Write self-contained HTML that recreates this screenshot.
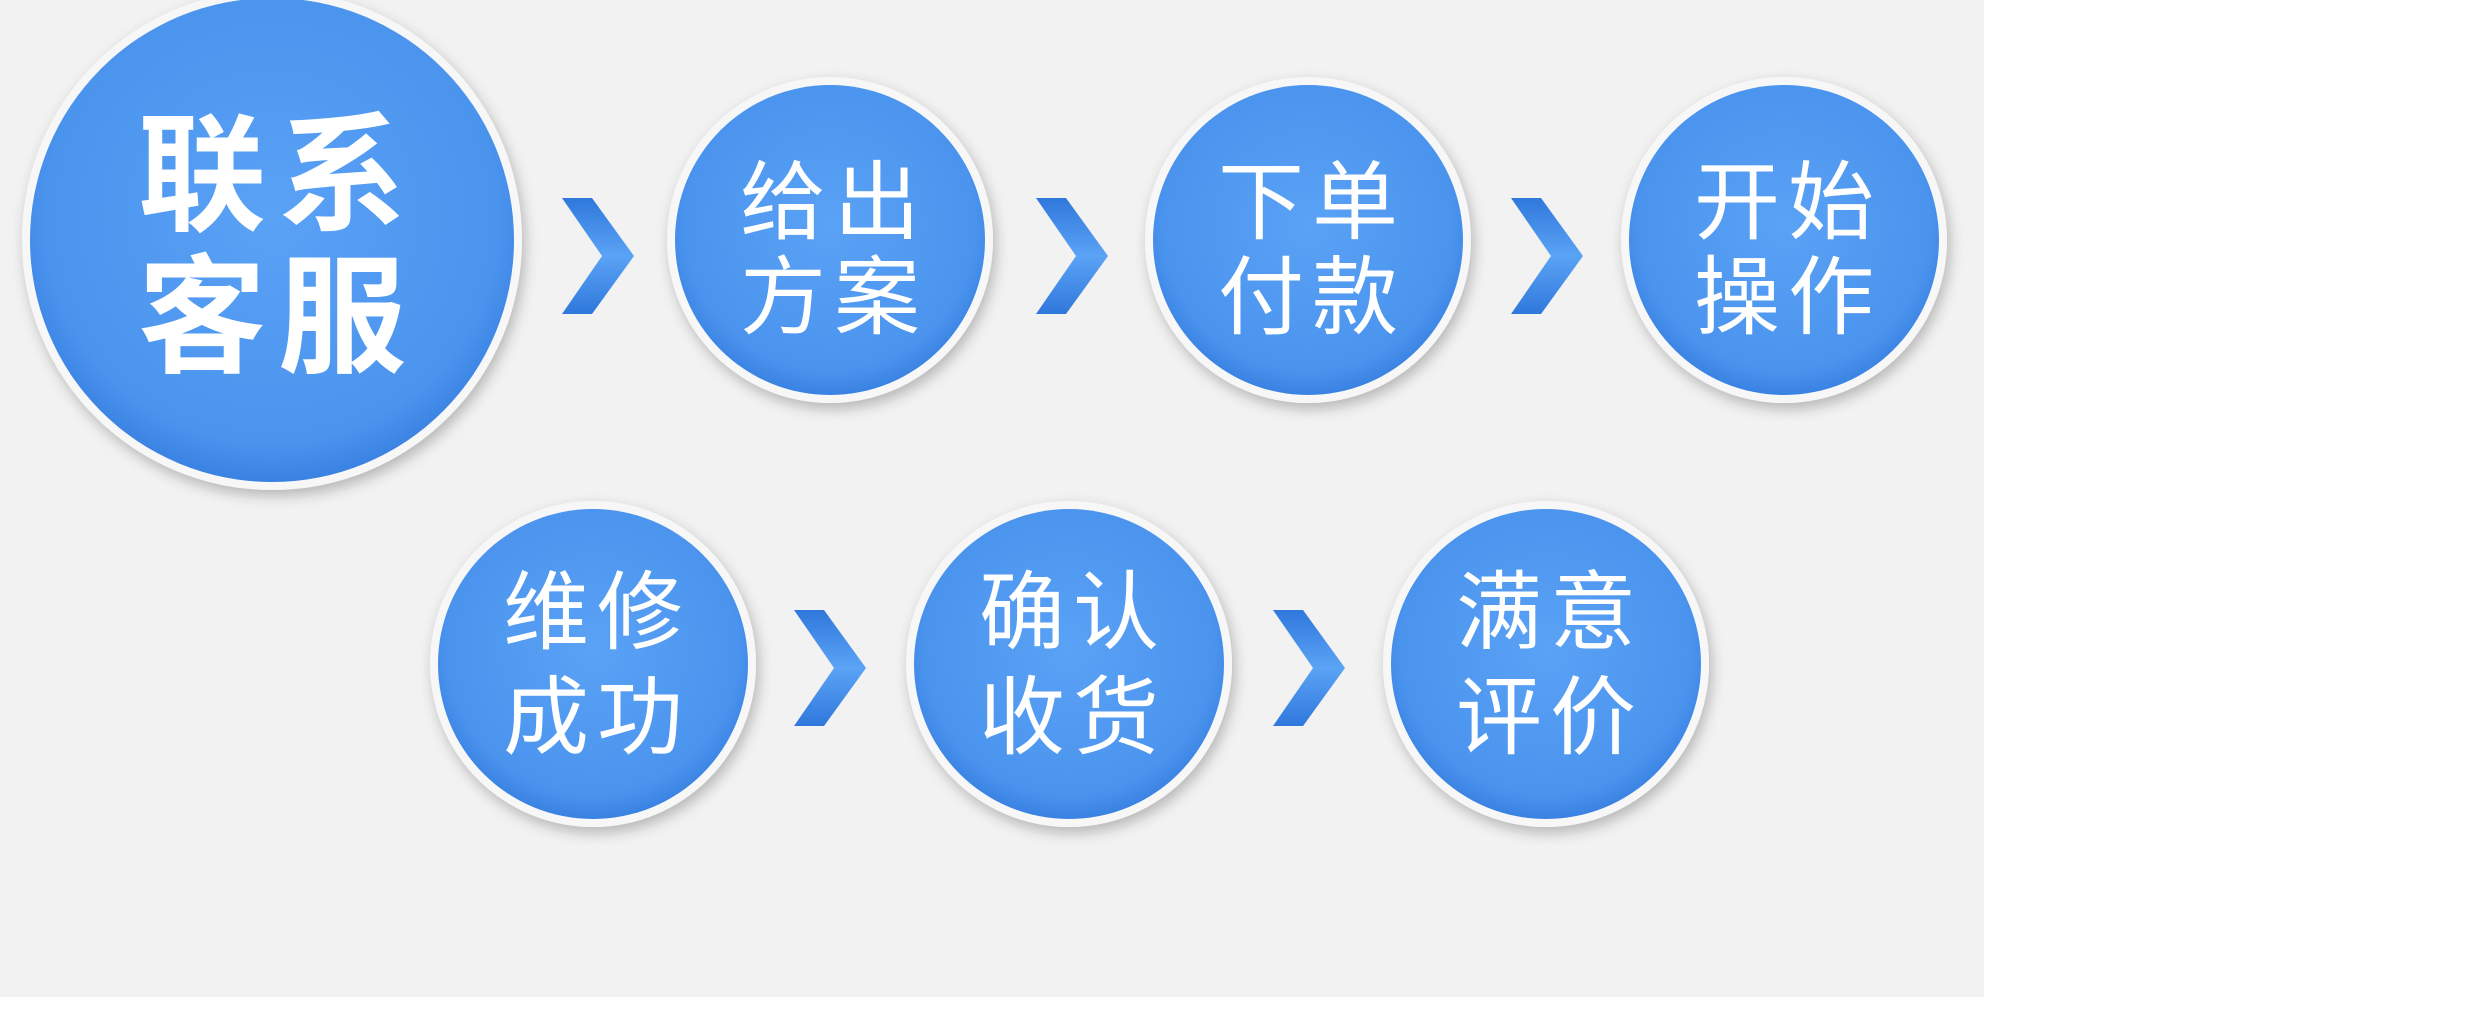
<!DOCTYPE html>
<html><head><meta charset="utf-8"><style>
html,body{margin:0;padding:0;background:#fff;}
svg{display:block;}
text{font-family:"Liberation Sans","Noto Sans CJK SC",sans-serif;fill:#fff;text-anchor:middle;}
</style></head><body>
<svg width="2480" height="1020" viewBox="0 0 2480 1020" xmlns="http://www.w3.org/2000/svg">
<defs>
<radialGradient id="bg" cx="0.5" cy="0.45" r="0.55">
<stop offset="0" stop-color="#5aa2f5"/><stop offset="0.85" stop-color="#4b94ee"/><stop offset="1" stop-color="#3a82e2"/>
</radialGradient>
<linearGradient id="ch" x1="0" y1="0" x2="0" y2="1">
<stop offset="0" stop-color="#2f78dc"/><stop offset="0.5" stop-color="#5ba3f5"/><stop offset="1" stop-color="#2f78dc"/>
</linearGradient>
<filter id="sh" x="-20%" y="-20%" width="140%" height="140%">
<feGaussianBlur in="SourceAlpha" stdDeviation="7"/><feOffset dx="3" dy="6"/>
<feComponentTransfer><feFuncA type="linear" slope="0.25"/></feComponentTransfer>
<feMerge><feMergeNode/><feMergeNode in="SourceGraphic"/></feMerge>
</filter>
<symbol id="chev" viewBox="0 0 72 116"><polygon points="0,0 30,0 72,58 30,116 0,116 40,58" fill="url(#ch)"/></symbol>
</defs>
<rect x="0" y="0" width="1984" height="997" fill="#f2f2f2"/>

<g filter="url(#sh)">
<circle cx="272" cy="240" r="250" fill="#f7f7f7"/>
<circle cx="830" cy="240" r="163" fill="#f7f7f7"/>
<circle cx="1308" cy="240" r="163" fill="#f7f7f7"/>
<circle cx="1784" cy="240" r="163" fill="#f7f7f7"/>
<circle cx="593" cy="664" r="163" fill="#f7f7f7"/>
<circle cx="1069" cy="664" r="163" fill="#f7f7f7"/>
<circle cx="1546" cy="664" r="163" fill="#f7f7f7"/>
</g>
<circle cx="272" cy="240" r="242" fill="url(#bg)"/>
<circle cx="830" cy="240" r="155" fill="url(#bg)"/>
<circle cx="1308" cy="240" r="155" fill="url(#bg)"/>
<circle cx="1784" cy="240" r="155" fill="url(#bg)"/>
<circle cx="593" cy="664" r="155" fill="url(#bg)"/>
<circle cx="1069" cy="664" r="155" fill="url(#bg)"/>
<circle cx="1546" cy="664" r="155" fill="url(#bg)"/>

<use href="#chev" x="562" y="198" width="72" height="116"/>
<use href="#chev" x="1036" y="198" width="72" height="116"/>
<use href="#chev" x="1511" y="198" width="72" height="116"/>
<use href="#chev" x="794" y="609" width="72" height="118"/>
<use href="#chev" x="1273" y="609" width="72" height="118"/>

<g font-weight="bold" font-size="128" letter-spacing="12">
<text x="278" y="220">联系</text>
<text x="278" y="362">客服</text>
</g>
<g font-size="86" letter-spacing="8">
<text x="834" y="232">给出</text><text x="834" y="327">方案</text>
<text x="1312" y="232">下单</text><text x="1312" y="327">付款</text>
<text x="1788" y="232">开始</text><text x="1788" y="327">操作</text>
<text x="597" y="642">维修</text><text x="597" y="747">成功</text>
<text x="1073" y="642">确认</text><text x="1073" y="747">收货</text>
<text x="1550" y="642">满意</text><text x="1550" y="747">评价</text>
</g>
</svg>
</body></html>
